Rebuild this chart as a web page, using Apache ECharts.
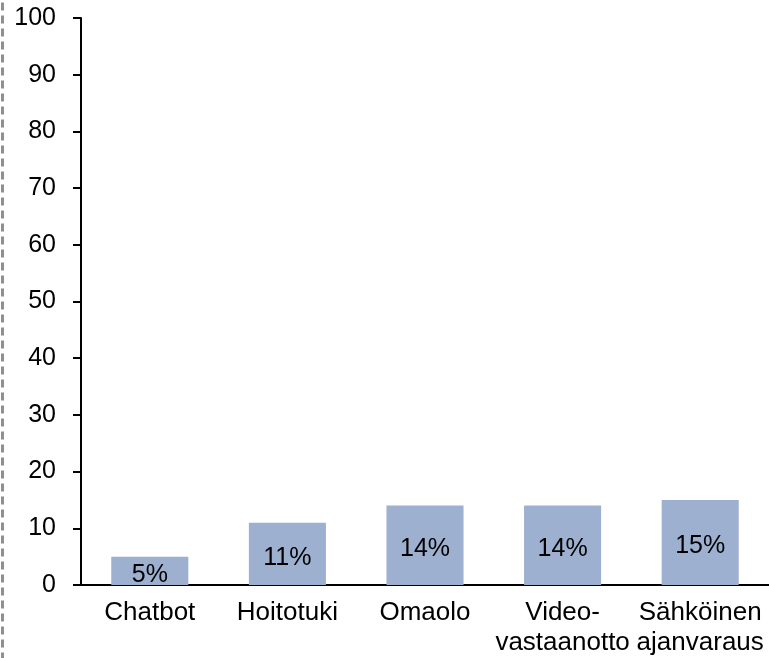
<!DOCTYPE html>
<html><head><meta charset="utf-8">
<script src="https://cdn.jsdelivr.net/npm/echarts@6/dist/echarts.min.js"></script>
<style>html,body{margin:0;padding:0;background:#fff;}#c{width:769px;height:658px;}</style>
</head><body><div id="c"></div>
<script>
const categories = ['Chatbot', 'Hoitotuki', 'Omaolo', 'Video-\nvastaanotto', 'Sähköinen\najanvaraus'];
const values = [5, 11, 14, 14, 15];
const yTicks = [0, 10, 20, 30, 40, 50, 60, 70, 80, 90, 100];

const chart = echarts.init(document.getElementById('c'), null, {renderer: 'canvas'});
chart.setOption({
  animation: false,
  textStyle: {fontFamily: 'Liberation Sans, Arial, sans-serif'},
  graphic: [{
    type: 'line', left: 0, top: 0,
    shape: {x1: 1.5, y1: 2, x2: 1.5, y2: 658},
    style: {stroke: '#8f8f8f', lineWidth: 3, lineDash: [8, 5]}
  }],
  grid: {left: 81, right: 0, top: 18, bottom: 73, containLabel: false},
  xAxis: {
    type: 'category', data: categories,
    axisLine: {lineStyle: {color: '#000', width: 2}},
    axisTick: {show: false},
    axisLabel: {color: '#000', fontSize: 26, lineHeight: 30, margin: 13, interval: 0}
  },
  yAxis: {
    type: 'value', min: yTicks[0], max: yTicks[yTicks.length - 1], interval: 10,
    splitLine: {show: false},
    axisLine: {show: true, lineStyle: {color: '#000', width: 2}},
    axisTick: {show: true, length: 8, lineStyle: {color: '#000', width: 2}},
    axisLabel: {color: '#000', fontSize: 25, margin: 25}
  },
  series: [{
    type: 'bar', data: values, barWidth: '56%',
    itemStyle: {color: '#9DB0CF'},
    label: {show: true, position: 'inside', offset: [0, 4], formatter: '{c}%', color: '#000', fontSize: 25}
  }]
});
</script></body></html>
